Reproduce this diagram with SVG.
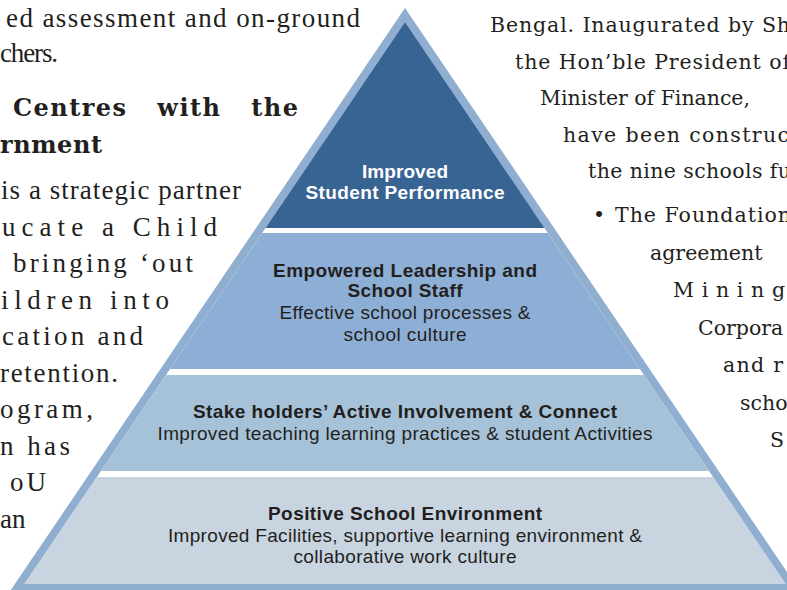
<svg xmlns="http://www.w3.org/2000/svg" width="787" height="590" viewBox="0 0 787 590">
<style>
.lt{font-family:"Liberation Serif","Times New Roman",serif;font-size:27px;fill:#231F20}
.hd{font-family:"DejaVu Serif",serif;font-size:24px;font-weight:bold;fill:#231F20}
.rt{font-family:"DejaVu Serif",serif;font-size:20.5px;fill:#231F20}
.pb{font-family:"Liberation Sans",Arial,sans-serif;font-size:19px;font-weight:bold;fill:#231F20;text-anchor:middle}
.pr{font-family:"Liberation Sans",Arial,sans-serif;font-size:19px;fill:#231F20;text-anchor:middle}
.pw{font-family:"Liberation Sans",Arial,sans-serif;font-size:19px;font-weight:bold;fill:#FFFFFF;text-anchor:middle}
</style>
<rect width="787" height="590" fill="#FFFFFF"/>
<g id="left-text">
<text class="lt" x="6" y="27" textLength="354">ed assessment and on-ground</text>
<text class="lt" x="0" y="62" textLength="58">chers.</text>
<text class="hd" x="13" y="116" textLength="285" word-spacing="20">Centres with the</text>
<text class="hd" x="0" y="153" textLength="102">rnment</text>
<text class="lt" x="1" y="199" textLength="240">is a strategic partner</text>
<text class="lt" x="2" y="235.5" textLength="215">ucate a Child</text>
<text class="lt" x="13" y="272" textLength="180">bringing ‘out</text>
<text class="lt" x="1" y="308.5" textLength="168">ildren into</text>
<text class="lt" x="2" y="345" textLength="141">cation and</text>
<text class="lt" x="0" y="381.5" textLength="118">retention.</text>
<text class="lt" x="0" y="418" textLength="93">ogram,</text>
<text class="lt" x="0" y="454.5" textLength="70">n has</text>
<text class="lt" x="10" y="491" textLength="36">o U</text>
<text class="lt" x="0" y="527.5">an</text>
</g>
<g id="right-text">
<text class="rt" x="490" y="32" textLength="300">Bengal. Inaugurated by Sh</text>
<text class="rt" x="515" y="69" textLength="275">the Hon’ble President of</text>
<text class="rt" x="540" y="105" textLength="210">Minister of Finance,</text>
<text class="rt" x="563" y="142" textLength="226">have been construc</text>
<text class="rt" x="588" y="178" textLength="203">the nine schools fu</text>
<text class="rt" x="593" y="222">•</text>
<text class="rt" x="615" y="222" textLength="176">The Foundation</text>
<text class="rt" x="650" y="259.5">agreement</text>
<text class="rt" x="673" y="297" textLength="112">Mining</text>
<text class="rt" x="698" y="334.5">Corpora</text>
<text class="rt" x="723" y="372" textLength="60">and r</text>
<text class="rt" x="740" y="409.5">scho</text>
<text class="rt" x="770" y="447">S</text>
</g>
<g id="pyramid-frame">
<polygon points="405,8 4,600 806,600" fill="#90AED0"/>
<polygon points="405,22 24.5,584 785.5,584" fill="#FFFFFF"/>
</g>
<g id="layer-1">
<polygon points="405,22 265.5,228 544.5,228" fill="#386493"/>
<text class="pw" x="405" y="178" textLength="86">Improved</text>
<text class="pw" x="405" y="199" textLength="199">Student Performance</text>
</g>
<g id="layer-2">
<polygon points="262.2,233 547.8,233 639.9,369 170.1,369" fill="#8DAED5"/>
<text class="pb" x="405" y="277" textLength="264">Empowered Leadership and</text>
<text class="pb" x="405" y="297" textLength="115">School Staff</text>
<text class="pr" x="405" y="319" textLength="251">Effective school processes &amp;</text>
<text class="pr" x="405" y="341" textLength="123">school culture</text>
</g>
<g id="layer-3">
<polygon points="166,375 644,375 709,471 101,471" fill="#A6C2D8"/>
<text class="pb" x="405" y="418" textLength="424">Stake holders’ Active Involvement &amp; Connect</text>
<text class="pr" x="405" y="440" textLength="495">Improved teaching learning practices &amp; student Activities</text>
</g>
<g id="layer-4">
<polygon points="97,477 713,477 785.5,584 24.5,584" fill="#C8D5E0"/>
<text class="pb" x="405" y="520" textLength="274">Positive School Environment</text>
<text class="pr" x="405" y="542" textLength="474">Improved Facilities, supportive learning environment &amp;</text>
<text class="pr" x="405" y="563" textLength="223">collaborative work culture</text>
</g>
</svg>
